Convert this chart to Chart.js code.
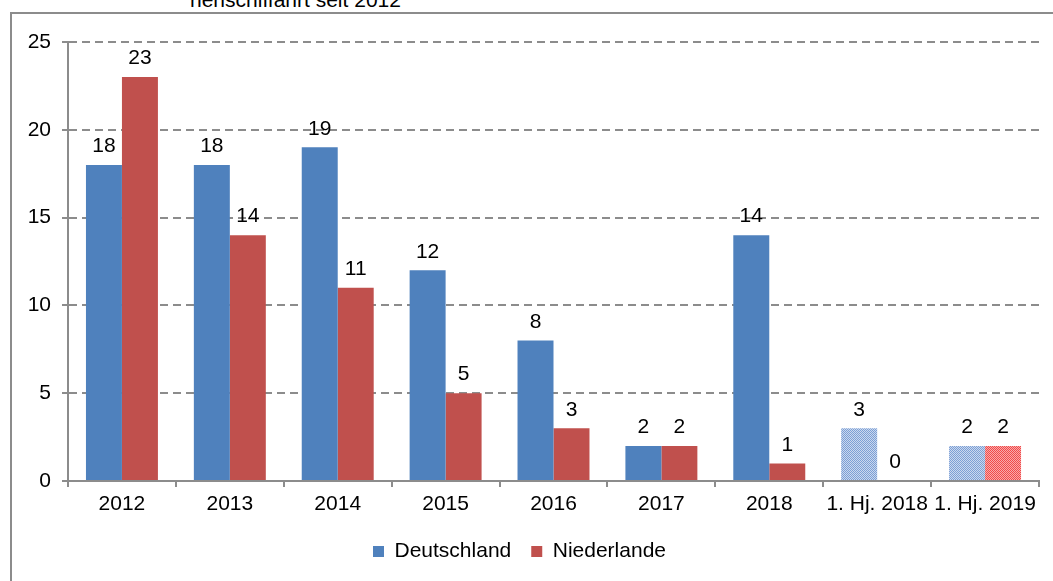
<!DOCTYPE html>
<html>
<head>
<meta charset="utf-8">
<script src="https://cdn.jsdelivr.net/npm/chart.js@4.4.1/dist/chart.umd.min.js"></script>
<style>
  html, body { margin: 0; padding: 0; width: 1053px; height: 581px; overflow: hidden; background: #fff; }
  #frame { position: absolute; left: 10px; top: 12px; width: 2000px; height: 2000px; border: 2px solid #8c8c8c; box-sizing: border-box; }
  #cut-title { position: absolute; left: 190px; top: -12px; font: 21px "Liberation Sans", Arial, sans-serif; color: #000; white-space: nowrap; }
  #wrap { position: absolute; left: 0; top: 0; width: 1053px; height: 581px; }
</style>
</head>
<body>
<div id="cut-title">henschiffahrt seit 2012</div>
<div id="frame"></div>
<div id="wrap"><canvas id="chart"></canvas></div>
<script>
const categories = ["2012", "2013", "2014", "2015", "2016", "2017", "2018", "1. Hj. 2018", "1. Hj. 2019"];
const deutschland = [18, 18, 19, 12, 8, 2, 14, 3, 2];
const niederlande = [23, 14, 11, 5, 3, 2, 1, 0, 2];
const yTicks = [0, 5, 10, 15, 20, 25];
// the half-year bars are drawn with a dotted fill
const halfYear = [false, false, false, false, false, false, false, true, true];

const FONT = '"Liberation Sans", Arial, sans-serif';

function makePattern(dark, light) {
  const c = document.createElement("canvas");
  c.width = 2;
  c.height = 2;
  const g = c.getContext("2d");
  g.fillStyle = light;
  g.fillRect(0, 0, 2, 2);
  g.fillStyle = dark;
  g.fillRect(0, 0, 1, 1);
  g.fillRect(1, 1, 1, 1);
  return g.createPattern(c, "repeat");
}

const ctx = document.getElementById("chart").getContext("2d");
const bluePattern = makePattern("#7c9fd4", "#cad8ef");
const redPattern = makePattern("#f04a4a", "#f9aaaa");

const valueLabels = {
  id: "valueLabels",
  afterDatasetsDraw(chart) {
    const c = chart.ctx;
    c.save();
    c.font = "21px " + FONT;
    c.fillStyle = "#000";
    c.textAlign = "center";
    c.textBaseline = "bottom";
    chart.data.datasets.forEach((ds, i) => {
      chart.getDatasetMeta(i).data.forEach((bar, j) => {
        c.fillText(String(ds.data[j]), bar.x, bar.y - 8);
      });
    });
    c.restore();
  }
};

new Chart(ctx, {
  type: "bar",
  data: {
    labels: categories,
    datasets: [
      {
        label: "Deutschland",
        data: deutschland,
        backgroundColor: halfYear.map((h) => (h ? bluePattern : "#4f81bd")),
        categoryPercentage: 0.667,
        barPercentage: 1.0,
      },
      {
        label: "Niederlande",
        data: niederlande,
        backgroundColor: halfYear.map((h) => (h ? redPattern : "#c0504d")),
        categoryPercentage: 0.667,
        barPercentage: 1.0,
      },
    ],
  },
  options: {
    responsive: true,
    maintainAspectRatio: false,
    animation: false,
    layout: { padding: { top: 42, right: 14, left: 0, bottom: 9 } },
    plugins: {
      legend: {
        position: "bottom",
        labels: {
          boxWidth: 11,
          boxHeight: 11,
          padding: 20,
          color: "#000",
          font: { family: FONT, size: 21 },
        },
      },
      tooltip: { enabled: false },
    },
    scales: {
      x: {
        grid: {
          offset: true,
          drawOnChartArea: false,
          drawTicks: true,
          tickLength: 6,
          color: "#8c8c8c",
          lineWidth: 2,
        },
        border: { color: "#8c8c8c", width: 2 },
        ticks: {
          color: "#000",
          padding: 5,
          maxRotation: 0,
          autoSkip: false,
          font: { family: FONT, size: 21 },
        },
        afterFit(scale) {
          scale.height = 40;
        },
      },
      y: {
        min: 0,
        max: 25,
        afterBuildTicks(scale) {
          scale.ticks = yTicks.map((v) => ({ value: v }));
        },
        grid: {
          color: "#8c8c8c",
          lineWidth: 2,
          tickLength: 6,
          tickBorderDash: [],
        },
        border: { color: "#8c8c8c", width: 2, dash: [8, 5] },
        ticks: {
          color: "#000",
          padding: 11,
          font: { family: FONT, size: 21 },
        },
        afterFit(scale) {
          scale.width = 68;
        },
      },
    },
  },
  plugins: [valueLabels],
});
</script>
</body>
</html>
